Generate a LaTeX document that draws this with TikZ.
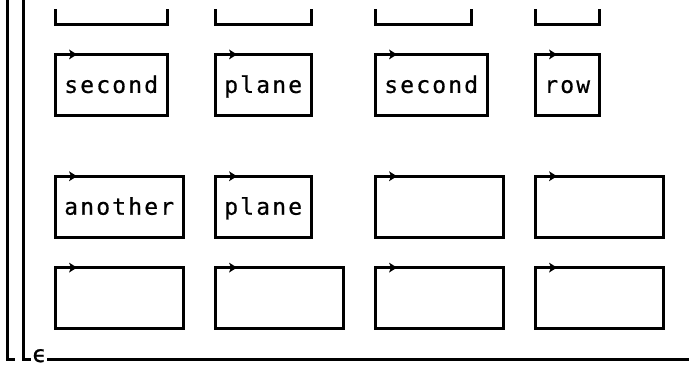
\documentclass[tikz,border=0pt]{standalone}
\usepackage{fontspec}
\newfontfamily\gridfont[FakeBold=0.6]{DejaVu Sans Mono}
\newcommand\gridtext[1]{\gridtextaux#1\relax}
\def\gridtextaux#1{\ifx#1\relax\else\makebox[16pt]{#1}\expandafter\gridtextaux\fi}
% box: name, first col, last col, top row
\newcommand\gbox[4]{%
  \node[gboxstyle, minimum width={16*(#3-#2)}, minimum height={30.45*2}] (#1) at ({7+8*(#2+#3)}, {24+30.45*(#4+1)}) {};
  \coordinate (#1tip) at ([xshift=22pt]#1.north west);
  \fill[black] (#1tip) -- ++(-8,-5) -- ++(2,5) -- ++(-2,5) -- cycle;
}
\newcommand\gword[4]{%
  \node[gtext, anchor=base west] (#1) at ({7+16*#2-8}, {24+30.45*#3+8}) {\gridtext{#4}};
}
\newcommand\gpart[3]{%
  \coordinate (#1a) at ({7+16*#2}, 9);
  \coordinate (#1b) at ({7+16*#2}, 24);
  \coordinate (#1c) at ({7+16*#3}, 24);
  \coordinate (#1d) at ({7+16*#3}, 9);
  \draw[gline] (#1a) -- (#1b) -- (#1c) -- (#1d);
}
\begin{document}
\begin{tikzpicture}[x=1pt,y=-1pt,
  gline/.style={line width=3pt, black},
  gboxstyle/.style={draw, line width=3pt, inner sep=0pt, outer sep=0pt},
  gtext/.style={font=\gridfont\fontsize{23}{23}\selectfont, inner sep=0pt, text=black}]
\useasboundingbox (0,0) rectangle (689,367);
% left bars
\coordinate (l0t) at (7,-2); \coordinate (l0b) at (7,359); \coordinate (l0e) at (15,359);
\coordinate (l1t) at (23,-2); \coordinate (l1b) at (23,359); \coordinate (l1e) at (31,359);
\draw[gline] (l0t) -- (l0b) -- (l0e);
\draw[gline] (l1t) -- (l1b) -- (l1e);
\node[gtext, anchor=base] (eps) at (39,362) {ϵ};
\coordinate (bl) at (47,359); \coordinate (br) at (690,359);
\draw[gline] (bl) -- (br);
% partial top boxes
\gpart{pA}{3}{10}
\gpart{pB}{13}{19}
\gpart{pC}{23}{29}
\gpart{pD}{33}{37}
% rows 1-3
\gbox{b11}{3}{10}{1} \gword{w11}{4}{2}{second}
\gbox{b12}{13}{19}{1} \gword{w12}{14}{2}{plane}
\gbox{b13}{23}{30}{1} \gword{w13}{24}{2}{second}
\gbox{b14}{33}{37}{1} \gword{w14}{34}{2}{row}
% rows 5-7
\gbox{b21}{3}{11}{5} \gword{w21}{4}{6}{another}
\gbox{b22}{13}{19}{5} \gword{w22}{14}{6}{plane}
\gbox{b23}{23}{31}{5}
\gbox{b24}{33}{41}{5}
% rows 8-10
\gbox{b31}{3}{11}{8}
\gbox{b32}{13}{21}{8}
\gbox{b33}{23}{31}{8}
\gbox{b34}{33}{41}{8}
\end{tikzpicture}
\end{document}
